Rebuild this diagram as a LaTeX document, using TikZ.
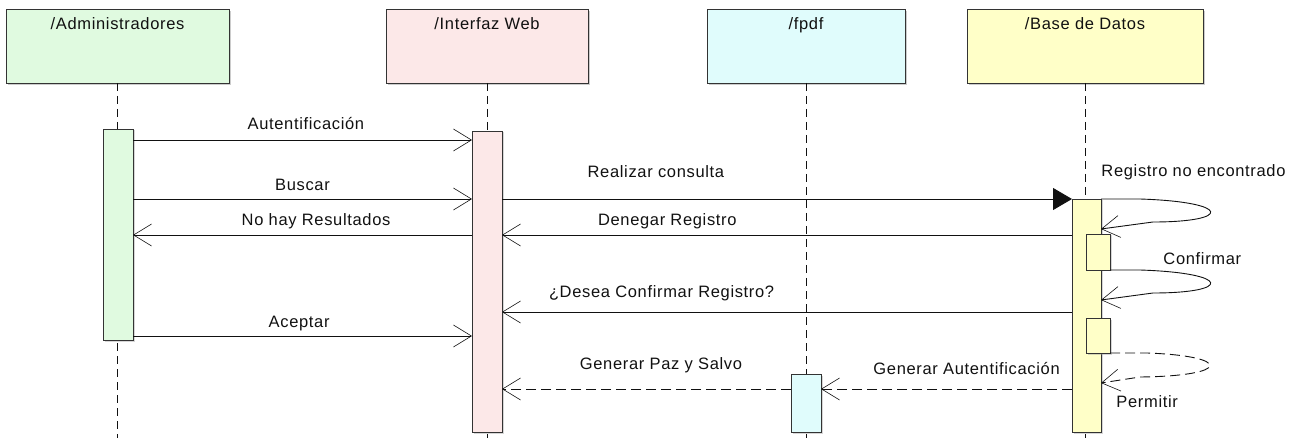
\documentclass[tikz,border=0pt]{standalone}
\usepackage{fontspec}
\setmainfont{Liberation Sans}[LetterSpace=4]
\usepackage{xcolor}
\usepackage{tikz}
\usetikzlibrary{positioning,arrows.meta,shadows}
\definecolor{admFill}{HTML}{E0FAE0}
\definecolor{webFill}{HTML}{FCE8E8}
\definecolor{pdfFill}{HTML}{E0FCFC}
\definecolor{dbFill}{HTML}{FFFFC8}
\definecolor{ink}{HTML}{111111}
\definecolor{edge}{HTML}{333333}
\newcommand{\lbfont}{\fontsize{16.5}{19}\selectfont}
\newcommand{\objtext}[2]{%
  \begin{minipage}[t][74pt][t]{#1}\centering
    \rule{0pt}{20.5pt}{\lbfont #2}\par
  \end{minipage}}

\begin{document}
\begin{tikzpicture}[x=1pt,y=1pt,
    objbox/.style={draw=edge,line width=0.8pt,fill=#1,shape=rectangle,inner sep=0pt,
                   outer sep=0pt,anchor=north west,text=ink,
                   drop shadow={shadow xshift=2pt,shadow yshift=-2pt,fill=black!40,opacity=0.5}},
    actbar/.style={draw=edge,line width=0.8pt,fill=#1,shape=rectangle,inner sep=0pt,
                   outer sep=0pt,anchor=north west,
                   drop shadow={shadow xshift=1.5pt,shadow yshift=-1.5pt,fill=black!40,opacity=0.4}},
    lifeline/.style={draw=ink,line width=0.9pt,dash pattern=on 8pt off 5pt},
    msg/.style={draw=ink,line width=0.9pt,-{Straight Barb[length=18pt,width=22pt,line width=0.6pt]}},
    reply/.style={msg,dash pattern=on 10pt off 5pt},
    call/.style={draw=ink,line width=0.9pt,-{Triangle[length=19pt,width=22pt]}},
    lbl/.style={font=\lbfont,text=ink,anchor=base,inner sep=0pt}]

\useasboundingbox (0,0) rectangle (1311,-438);

% ======================= lifeline heads ===============================================
\node[objbox=admFill] (adm) at (6,-9)   {\objtext{223pt}{/Administradores}};
\node[objbox=webFill] (web) at (386,-9) {\objtext{202pt}{/Interfaz Web}};
\node[objbox=pdfFill] (pdf) at (707,-9) {\objtext{198pt}{/fpdf}};
\node[objbox=dbFill]  (db)  at (967,-9) {\objtext{236pt}{/Base de Datos}};

% ======================= message rows =================================================
\coordinate (rAut) at (0,-140);
\coordinate (rBus) at (0,-199);
\coordinate (rNo)  at (0,-235);
\coordinate (rDes) at (0,-312);
\coordinate (rAce) at (0,-336);
\coordinate (rGen) at (0,-389);
\coordinate (rL1)  at (0,-229);
\coordinate (rL2)  at (0,-300);
\coordinate (rL3)  at (0,-383);
\coordinate (rEnd) at (0,-438);

% ======================= lifelines ====================================================
\draw[lifeline] (adm.south) -- (adm.south |- rEnd);
\draw[lifeline] (web.south) -- (web.south |- rEnd);
\draw[lifeline] (pdf.south) -- (pdf.south |- rEnd);
\draw[lifeline] (db.south)  -- (db.south |- rEnd);

% ======================= activation bars ==============================================
\node[actbar=admFill,minimum width=30pt,minimum height=211pt] (admAct) at (103,-129) {};
\node[actbar=webFill,minimum width=30pt,minimum height=301pt] (webAct) at (472,-131) {};
\node[actbar=pdfFill,minimum width=30pt,minimum height=58pt]  (pdfAct) at (791,-374) {};
\node[actbar=dbFill,minimum width=29pt,minimum height=233pt]  (dbAct)  at (1072,-199) {};
\node[actbar=dbFill,minimum width=24pt,minimum height=36pt]   (dbAct1) at (1086,-234) {};
\node[actbar=dbFill,minimum width=24pt,minimum height=35pt]   (dbAct2) at (1086,-318) {};

% ======================= messages =====================================================
\draw[msg] (admAct.east |- rAut) -- node[lbl,pos=0.51,yshift=10.5pt] {Autentificación} (webAct.west |- rAut);
\draw[msg] (admAct.east |- rBus) -- node[lbl,pos=0.50,yshift=8.5pt] {Buscar} (webAct.west |- rBus);
\draw[call] (webAct.east |- rBus) -- node[lbl,pos=0.27,yshift=21.5pt] {Realizar consulta} (dbAct.west |- rBus);
\draw[msg] (webAct.west |- rNo) -- node[lbl,pos=0.46,yshift=9.5pt] {No hay Resultados} (admAct.east |- rNo);
\draw[msg] (dbAct.west |- rNo) -- node[lbl,pos=0.71,yshift=9.5pt] {Denegar Registro} (webAct.east |- rNo);
\draw[msg] (dbAct.west |- rDes) -- node[lbl,pos=0.72,yshift=14.5pt] {¿Desea Confirmar Registro?} (webAct.east |- rDes);
\draw[msg] (admAct.east |- rAce) -- node[lbl,pos=0.49,yshift=8.5pt] {Aceptar} (webAct.west |- rAce);
\draw[reply] (dbAct.west |- rGen) -- node[lbl,pos=0.42,yshift=14.5pt] {Generar Autentificación} (pdfAct.east |- rGen);
\draw[reply] (pdfAct.west |- rGen) -- node[lbl,pos=0.45,yshift=19.5pt] {Generar Paz y Salvo} (webAct.east |- rGen);

% ======================= self messages on Base de Datos ===============================
\draw[msg] (dbAct.east |- rBus) node[lbl,anchor=base west,yshift=22.5pt] {Registro no encontrado}
  -- (1140,-199) .. controls (1232,-202) and (1232,-222) .. (1153,-222) -- (dbAct.east |- rL1);
\draw[msg] (dbAct1.south east) node[lbl,anchor=base west,xshift=53pt,yshift=5.5pt] {Confirmar}
  -- (1140,-270) .. controls (1232,-273) and (1232,-293) .. (1153,-293) -- (dbAct.east |- rL2);
\draw[reply] (dbAct2.south east) -- (1147,-353) .. controls (1232,-356) and (1232,-376) .. (1140,-377)
  -- (dbAct.east |- rL3) node[lbl,anchor=base west,xshift=15pt,yshift=-24.5pt] {Permitir};

\end{tikzpicture}
\end{document}
